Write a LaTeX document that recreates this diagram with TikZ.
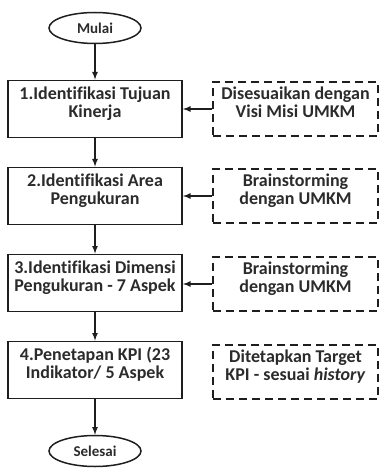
\documentclass[tikz,border=0pt]{standalone}
\usepackage{fontspec}
\setmainfont[Ligatures=CommonOff]{Carlito}
\usepackage{tikz}
\usepackage{xcolor}
\tikzset{>=latex}
\usetikzlibrary{shapes.geometric}

\definecolor{garis}{HTML}{1E1E1E}
\definecolor{tulisan}{HTML}{2B2B2B}
\tikzset{
  terminal/.style={ellipse, draw=garis, line width=1.5pt, text=tulisan,
    minimum width=92pt, minimum height=31pt, inner sep=0pt,
    font=\fontsize{15}{15}\selectfont\bfseries},
  langkah/.style={draw=garis, line width=1.8pt, text=tulisan, align=center,
    minimum width=174pt, minimum height=57pt, inner sep=0pt, text depth=14pt,
    font=\fontsize{18}{18}\selectfont\bfseries},
  catatan/.style={draw=garis, line width=1.3pt, dash pattern=on 8pt off 5pt,
    text=tulisan, align=center, minimum width=165pt, minimum height=54pt,
    inner sep=0pt, text depth=14pt,
    font=\fontsize{18}{18}\selectfont\bfseries},
  alur/.style={->, draw=garis, line width=1.6pt}
}

\begin{document}
\begin{tikzpicture}[x=1pt, y=1pt]
      \useasboundingbox (0, 0) rectangle (380, -470);
      % alur utama
      \node[terminal] (mulai) at (95, -28) {Mulai};
      \node[langkah] (tujuan) at (95, -109) {1.Identifikasi Tujuan\\Kinerja};
      \node[langkah] (area) at (95, -196) {2.Identifikasi Area\\Pengukuran};
      \node[langkah] (dimensi) at (95, -283) {3.Identifikasi Dimensi\\Pengukuran - 7 Aspek};
      \node[langkah] (kpi) at (95, -370) {4.Penetapan KPI (23\\Indikator/ 5 Aspek};
      \node[terminal] (selesai) at (95, -451) {Selesai};
      % keterangan
      \node[catatan] (visi) at (295.5, -109) {Disesuaikan dengan\\Visi Misi UMKM};
      \node[catatan] (brain1) at (295.5, -196) {Brainstorming\\dengan UMKM};
      \node[catatan] (brain2) at (295.5, -284) {Brainstorming\\dengan UMKM};
      \node[catatan] (target) at (295.5, -372) {Ditetapkan Target\\KPI - sesuai \textit{history}};
      \draw[alur] (mulai) -- (tujuan);
      \draw[alur] (tujuan) -- (area);
      \draw[alur] (area) -- (dimensi);
      \draw[alur] (dimensi) -- (kpi);
      \draw[alur] (kpi) -- (selesai);
      \draw[alur] (visi) -- (tujuan);
      \draw[alur] (brain1) -- (area);
      \draw[alur] (brain2.west) -- (dimensi.east |- brain2.west);
    \end{tikzpicture}
\end{document}
